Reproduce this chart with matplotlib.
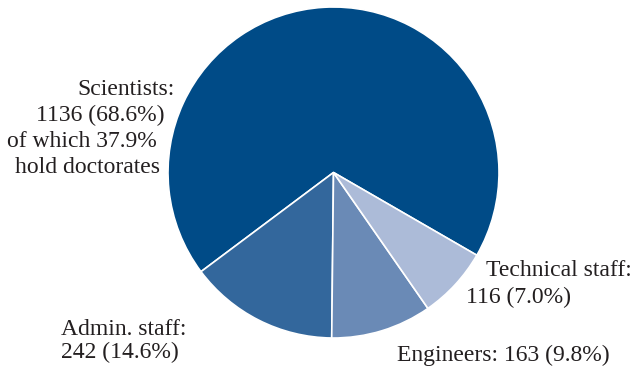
import matplotlib
matplotlib.use("Agg")
import matplotlib.pyplot as plt

# staff categories, counts and shares (%)
categories = ["Scientists", "Admin. staff", "Engineers", "Technical staff"]
counts = [1136, 242, 163, 116]
shares = [68.6, 14.6, 9.8, 7.0]
doctorate_share = 37.9
colors = ["#004b87", "#33679c", "#6a8ab6", "#acbbd8"]

W, H = 634, 367
plt.rcParams["font.family"] = ["Liberation Serif", "DejaVu Serif"]

fig = plt.figure(figsize=(W / 100, H / 100), dpi=100)
ax = fig.add_axes([0, 0, 1, 1])

# pie in pixel units, y measured from bottom
ax.pie(counts, colors=colors, startangle=-30, counterclock=True,
       center=(333.5, H - 172.5), radius=165.5,
       wedgeprops=dict(edgecolor="white", linewidth=1.2))
ax.set_xlim(0, W)
ax.set_ylim(0, H)
ax.set_aspect("equal")
ax.axis("off")

fs = 17
tc = "#231f20"


def put(x, y, s, ha):
    ax.text(x, H - y, s, ha=ha, va="baseline", fontsize=fs, color=tc)


# Scientists (lines hug the circle)
sci_lines = [
    f"{categories[0]}:",
    f"{counts[0]} ({shares[0]:.1f}%)",
    f"of which {doctorate_share:.1f}%",
    "hold doctorates",
]
for (x, y), s in zip([(175, 95), (165, 121), (157, 147), (160, 173)], sci_lines):
    put(x, y, s, "right")

# Admin. staff
put(61, 335, f"{categories[1]}:", "left")
put(61, 358, f"{counts[1]} ({shares[1]:.1f}%)", "left")

# Engineers
put(397, 361, f"{categories[2]}: {counts[2]} ({shares[2]:.1f}%)", "left")

# Technical staff
put(486, 276, f"{categories[3]}:", "left")
put(466, 303, f"{counts[3]} ({shares[3]:.1f}%)", "left")

fig.savefig("out.png", dpi=100, facecolor="white")
